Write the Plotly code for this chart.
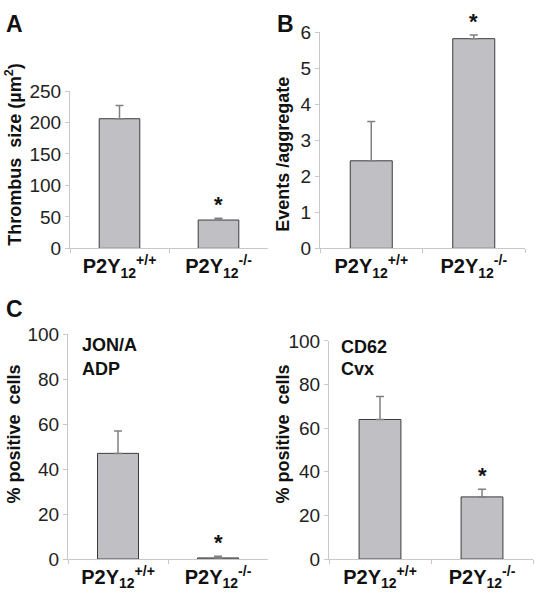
import plotly.graph_objects as go

W, H = 537, 599
FONT = "Liberation Sans, Arial, sans-serif"

genotypes = ["wt", "ko"]
tick_labels = ["<b>P2Y<sub>12</sub><sup>+/+</sup></b>", "<b>P2Y<sub>12</sub><sup>-/-</sup></b>"]

# Panel A: thrombus size
thrombus_size = [206, 45]
thrombus_err = [21, 3]
# Panel B: events / aggregate
events = [2.43, 5.82]
events_err = [1.09, 0.10]
# Panel C left: JON/A ADP
jona = [47, 0.5]
jona_err = [10, 0.7]
# Panel C right: CD62 Cvx
cd62 = [64, 28.5]
cd62_err = [10.5, 3.5]


def fx(px):
    return min(1.0, max(0.0, px / W))


def fy(py):
    return min(1.0, max(0.0, 1 - py / H))


panels = [
    (thrombus_size, thrombus_err, [0, 250], 50, (70, 268), (84, 247), "Thrombus  size (µm<sup>2</sup>)", (14, 150)),
    (events, events_err, [0, 6], 1, (320, 525), (23, 247), "Events /aggregate", (283, 150)),
    (jona, jona_err, [0, 100], 20, (68, 268), (336, 569), "% positive  cells", (14, 440)),
    (cd62, cd62_err, [0, 100], 20, (329, 533), (343, 569), "% positive  cells", (283, 440)),
]

fig = go.Figure()
annotations = []
for i, (vals, errs, yr, dt, xd, yd, title, tpos) in enumerate(panels):
    n = "" if i == 0 else str(i + 1)
    fig.add_trace(go.Bar(
        x=genotypes, y=vals, width=0.41,
        marker=dict(color="#c0c0c4", line=dict(color="#3c3c3c", width=1)),
        error_y=dict(type="data", array=errs, symmetric=False, arrayminus=[0, 0],
                     color="#808080", thickness=1.5, width=4),
        xaxis="x" + n, yaxis="y" + n, showlegend=False, hoverinfo="skip",
    ))
    fig.layout["xaxis" + n] = dict(
        domain=[fx(xd[0]), fx(xd[1])], anchor="y" + n,
        range=[-0.5, 1.5], tickmode="array", tickvals=genotypes, ticktext=tick_labels,
        tickson="boundaries", ticks="outside", ticklen=4, tickcolor="#c8c8c8",
        showline=True, linecolor="#c8c8c8", linewidth=1, showgrid=False, fixedrange=True,
        tickfont=dict(family=FONT, size=20, color="#111"),
    )
    fig.layout["yaxis" + n] = dict(
        domain=[fy(yd[1]), fy(yd[0])], anchor="x" + n,
        range=yr, dtick=dt, ticks="outside", ticklen=4, tickcolor="#c8c8c8",
        showline=True, linecolor="#c8c8c8", linewidth=1, showgrid=False, zeroline=False,
        fixedrange=True,
        tickfont=dict(family=FONT, size=19, color="#222"),
    )
    annotations.append(dict(
        text="<b>" + title + "</b>", x=fx(tpos[0]), y=fy(tpos[1]), xref="paper", yref="paper",
        textangle=-90, showarrow=False, xanchor="center", yanchor="middle",
        font=dict(family=FONT, size=18, color="#111"),
    ))
    annotations.append(dict(
        text="<b>*</b>", x=genotypes[1], y=vals[1] + errs[1], xref="x" + n, yref="y" + n,
        showarrow=False, yanchor="bottom", yshift=-1,
        font=dict(family=FONT, size=22, color="#111"),
    ))

for letter, (px, py) in {"A": (15, 14), "B": (285, 14), "C": (15, 310)}.items():
    annotations.append(dict(
        text="<b>" + letter + "</b>", x=fx(px), y=fy(py), xref="paper", yref="paper",
        showarrow=False, xanchor="center", yanchor="middle",
        font=dict(family=FONT, size=23, color="#111"),
    ))

for txt, (px, py) in {"JON/A": (80, 347), "ADP": (80, 372), "CD62": (339, 349), "Cvx": (339, 372)}.items():
    annotations.append(dict(
        text="<b>" + txt + "</b>", x=fx(px), y=fy(py), xref="paper", yref="paper",
        showarrow=False, xanchor="left", yanchor="middle",
        font=dict(family=FONT, size=18, color="#111"),
    ))

fig.update_layout(
    width=W, height=H, margin=dict(l=0, r=0, t=0, b=0),
    paper_bgcolor="white", plot_bgcolor="white",
    annotations=annotations, hovermode=False,
)

fig.write_html(
    "out.html",
    config={"displayModeBar": False, "staticPlot": True},
    post_script="document.body.style.margin='0';document.body.style.overflow='hidden';",
)
